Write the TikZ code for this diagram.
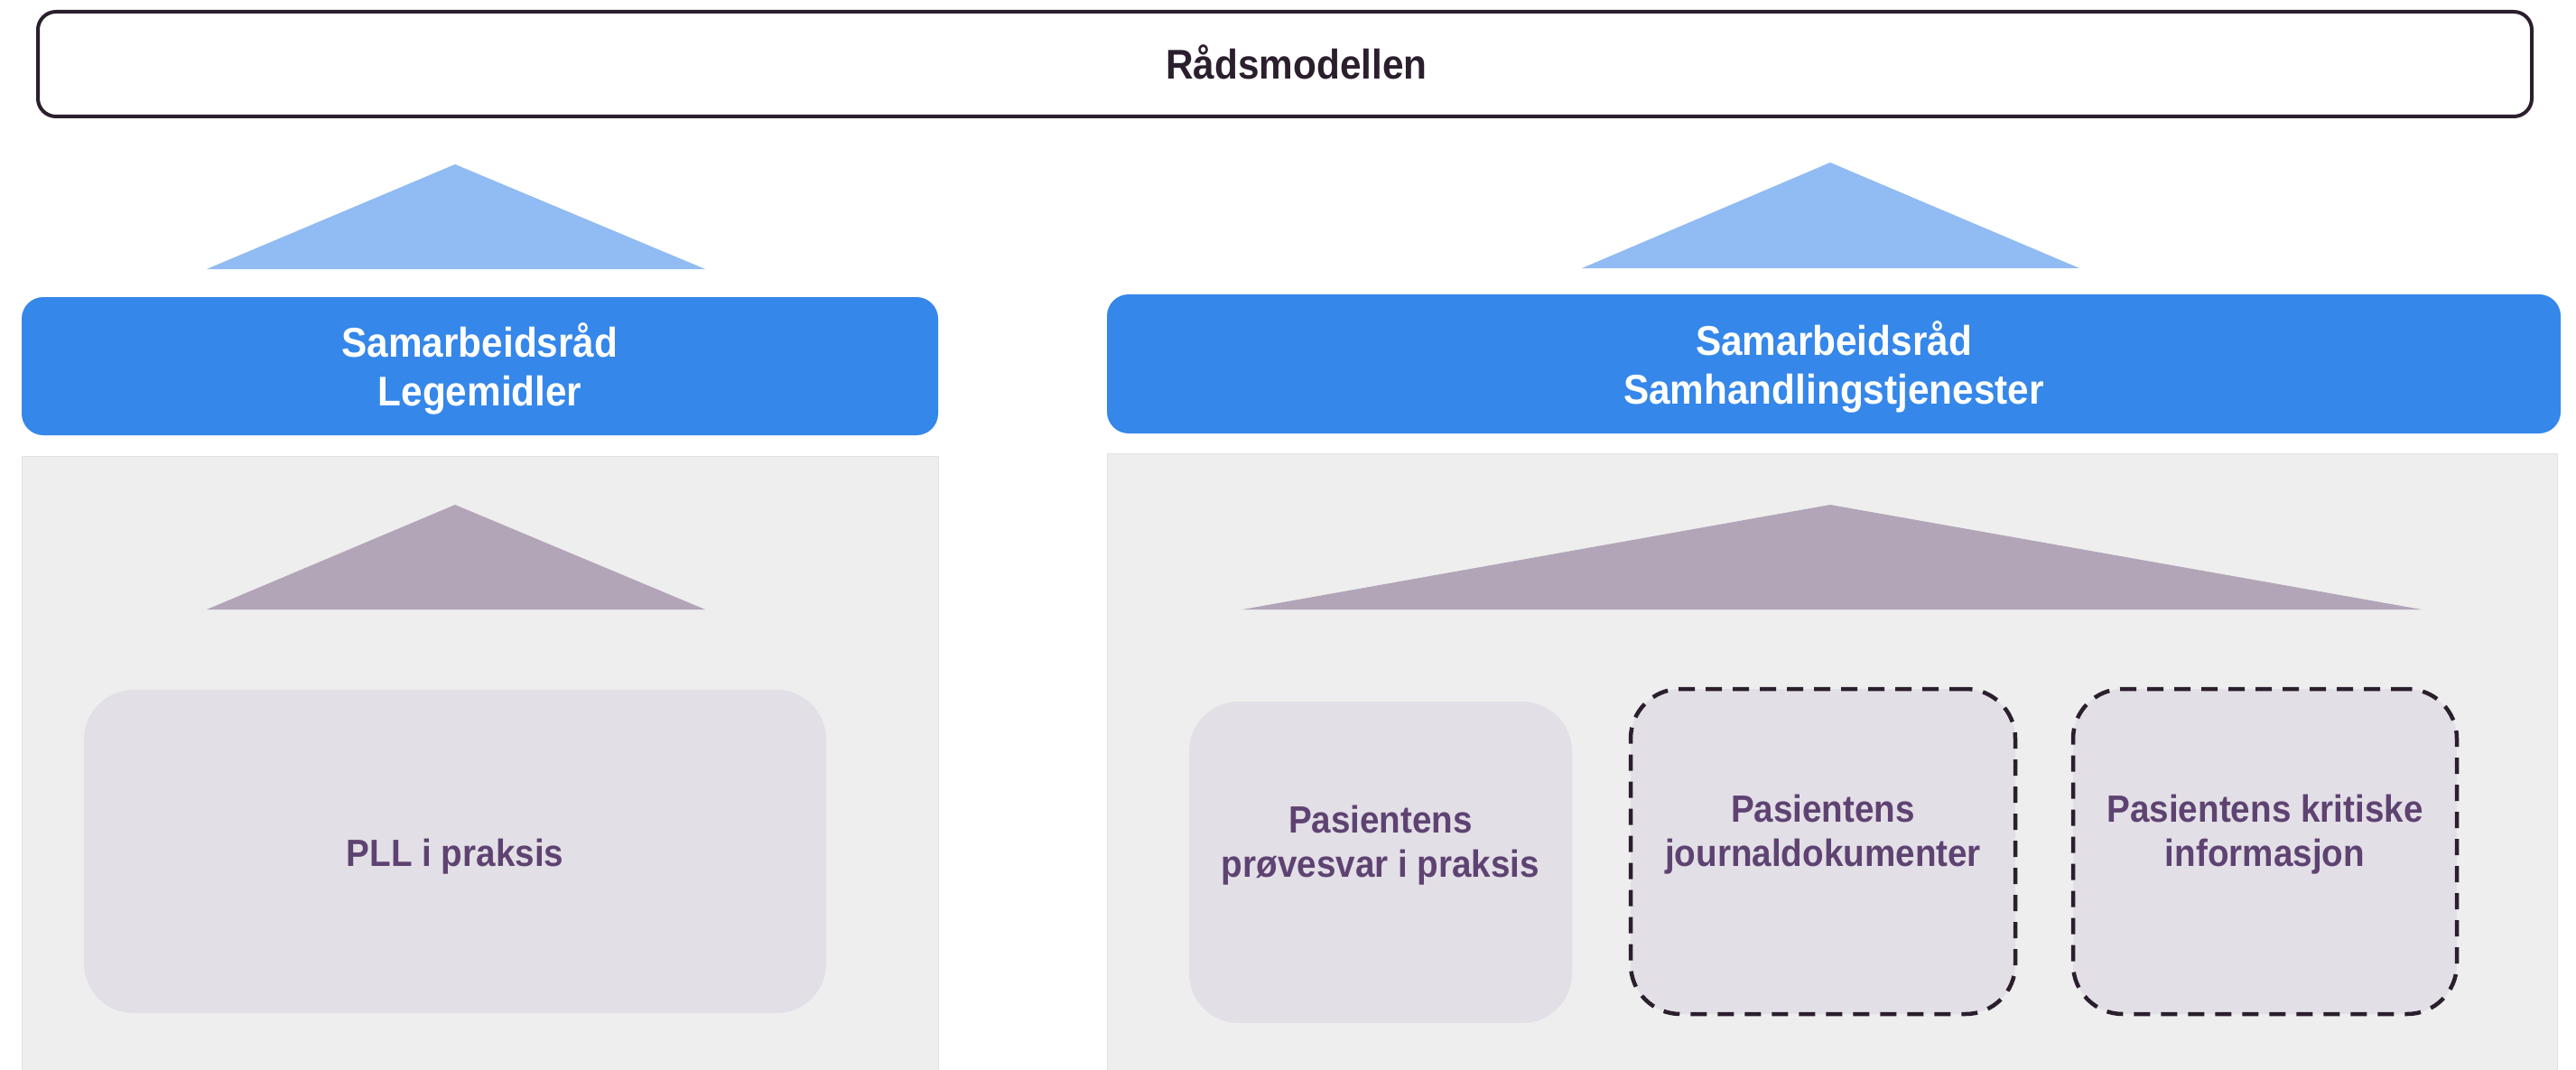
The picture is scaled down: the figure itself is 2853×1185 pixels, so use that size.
\documentclass[tikz,border=0pt]{standalone}
\usepackage{fontspec}
\setmainfont{Liberation Sans}[FakeStretch=0.92]

\definecolor{inkdark}{HTML}{2B1F2E}
\definecolor{councilblue}{HTML}{3587EA}
\definecolor{councilarrow}{HTML}{90BBF3}
\definecolor{panelgray}{HTML}{EEEEEE}
\definecolor{paneledge}{HTML}{E2E2E2}
\definecolor{projarrow}{HTML}{B3A5B8}
\definecolor{projfill}{HTML}{E3DFE6}
\definecolor{projink}{HTML}{5E4372}

\begin{document}
\begin{tikzpicture}[x=1pt,y=-1pt,
  topbox/.style={draw=inkdark, line width=4pt, fill=white, rounded corners=20pt, inner sep=0pt},
  toptext/.style={text=inkdark, font=\bfseries\fontsize{46}{54}\selectfont, inner sep=0pt},
  councilbox/.style={fill=councilblue, rounded corners=24pt, inner sep=0pt, align=center,
    text=white, font=\bfseries\fontsize{46}{54}\selectfont},
  projbox/.style={fill=projfill, rounded corners=55pt, inner sep=0pt},
  plannedbox/.style={projbox, draw=inkdark, line width=4.5pt, dash pattern=on 18pt off 12pt},
  projtext/.style={text=projink, align=center, inner sep=0pt,
    font=\bfseries\fontsize{42}{49}\selectfont},
  panel/.style={fill=panelgray, draw=paneledge, line width=1pt},
]
\useasboundingbox[fill=white] (0,0) rectangle (2853,1185);

% grey work areas under each council
\path[panel] (24,505) rectangle (1039,1190);
\path[panel] (1226,502) rectangle (2832,1190);

% umbrella model
\node[topbox, minimum width=2762pt, minimum height=116pt] (model) at (1423,71) {};
\node[toptext] (modellabel) at (1436,69) {Rådsmodellen};

% triangles pointing up to the model
\fill[councilarrow] (229,298) -- (504,182) -- (781,298) -- cycle;
\fill[councilarrow] (1752,297) -- (2027,180) -- (2303,297) -- cycle;

% councils
\node[councilbox, minimum width=1015pt, minimum height=153pt] (legemidler) at (531.5,405.5) {};
\node[councilbox] (legemidlerlabel) at (531.5,408) {Samarbeidsråd\\Legemidler};
\node[councilbox, minimum width=1610pt, minimum height=154pt] (samhandling) at (2031,403) {};
\node[councilbox] (samhandlinglabel) at (2031,406) {Samarbeidsråd\\Samhandlingstjenester};

% triangles pointing up to the councils
\fill[projarrow] (229,675) -- (504,559) -- (781,675) -- cycle;
\fill[projarrow] (1376,675) -- (2027,559) -- (2682,675) -- cycle;

% projects
\node[projbox, minimum width=822pt, minimum height=358pt] (pll) at (504,943) {};
\node[projtext] (plllabel) at (504,949) {PLL i praksis};

\node[projbox, minimum width=424pt, minimum height=356pt] (provesvar) at (1529,955) {};
\node[projtext] (provesvarlabel) at (1529,936) {Pasientens\\prøvesvar i praksis};

\node[plannedbox, minimum width=426pt, minimum height=360pt] (journal) at (2019,943) {};
\node[projtext] (journallabel) at (2019,924) {Pasientens\\journaldokumenter};

\node[plannedbox, minimum width=425pt, minimum height=360pt] (kritisk) at (2508.5,943) {};
\node[projtext] (kritisklabel) at (2508.5,924) {Pasientens kritiske\\informasjon};
\end{tikzpicture}
\end{document}
